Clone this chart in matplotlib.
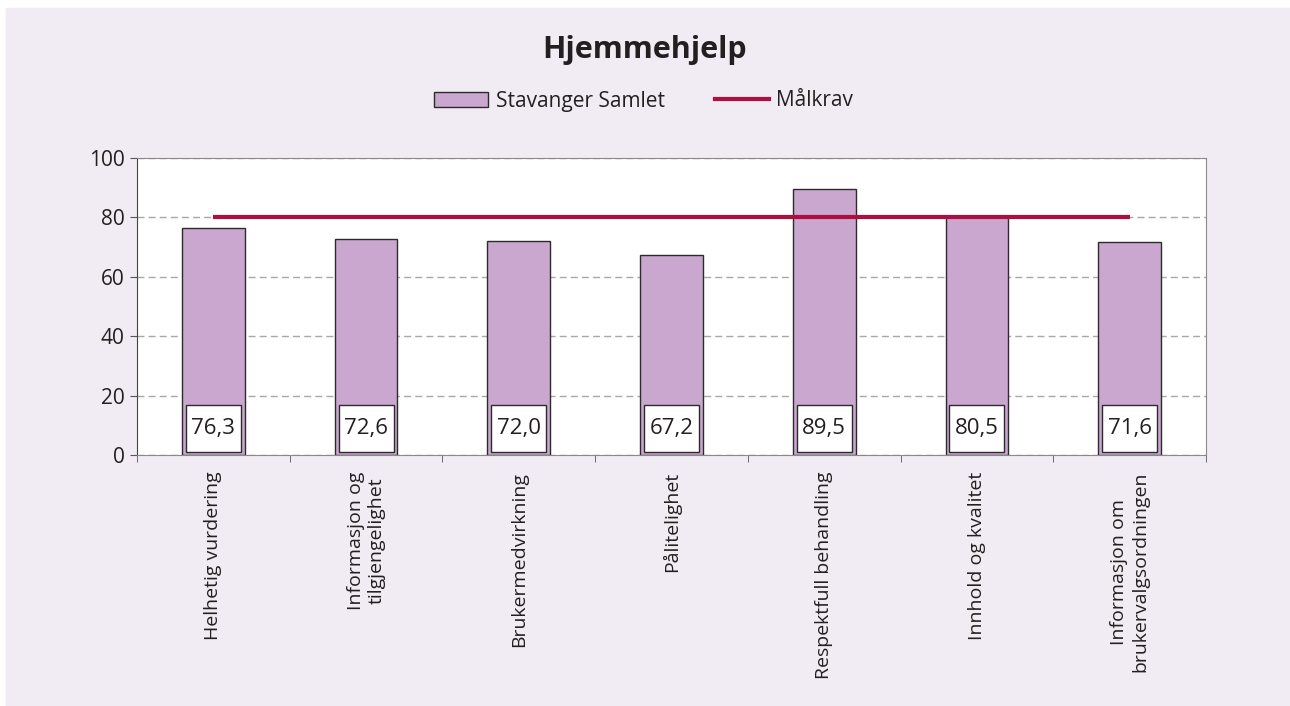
import matplotlib.pyplot as plt
from matplotlib.patches import Rectangle, Patch
from matplotlib.lines import Line2D
import numpy as np

plt.rcParams['font.family'] = ['Open Sans', 'DejaVu Sans']

# ---- data ----
categories = [
    "Helhetig vurdering",
    "Informasjon og\ntilgjengelighet",
    "Brukermedvirkning",
    "Pålitelighet",
    "Respektfull behandling",
    "Innhold og kvalitet",
    "Informasjon om\nbrukervalgsordningen",
]
scores = [76.3, 72.6, 72.0, 67.2, 89.5, 80.5, 71.6]
target = [80, 80, 80, 80, 80, 80, 80]

BAR_COLOR = "#C9A7CE"
LINE_COLOR = "#AE0F3E"
PANEL_COLOR = "#F1ECF4"
TEXT_COLOR = "#231F20"

fig = plt.figure(figsize=(12.9, 7.06), dpi=100, facecolor="white")
fig.patches.append(Rectangle((6 / 1290, 0), 1, 1 - 8 / 706,
                             transform=fig.transFigure, color=PANEL_COLOR,
                             zorder=-10))

ax = fig.add_axes([137 / 1290, 1 - 455 / 706, (1206 - 137) / 1290, (455 - 158) / 706])
ax.set_facecolor("white")

x = np.arange(len(categories))
ax.bar(x, scores, width=0.41, color=BAR_COLOR, edgecolor="#2B2B2B",
       linewidth=1, zorder=2)
ax.plot(x, target, color=LINE_COLOR, linewidth=3, zorder=3,
        solid_capstyle="butt")

# value boxes sitting at the foot of each bar
box_w, box_y0, box_y1 = 0.36, 1.0, 16.8
for xi, v in zip(x, scores):
    ax.add_patch(Rectangle((xi - box_w / 2, box_y0), box_w, box_y1 - box_y0,
                           facecolor="white", edgecolor="#2B2B2B",
                           linewidth=1, zorder=4))
    ax.text(xi, (box_y0 + box_y1) / 2, f"{v:.1f}".replace(".", ","),
            ha="center", va="center", fontsize=16, color=TEXT_COLOR, zorder=5)

ax.set_xlim(-0.5, len(categories) - 0.5)
ax.set_ylim(0, 100)
ax.set_yticks([0, 20, 40, 60, 80, 100])
ax.yaxis.grid(True, linestyle=(0, (5, 3)), color="#A8A8A8", linewidth=1, zorder=0)
ax.set_axisbelow(True)

ax.set_xticks(x)
ax.set_xticklabels(categories, rotation=90, fontsize=14, color=TEXT_COLOR,
                   multialignment="center")
ax.set_xticks(np.arange(-0.5, len(categories)), minor=True)
ax.tick_params(axis="x", which="major", length=0, pad=12)
ax.tick_params(axis="x", which="minor", length=5, color="#555555")
ax.tick_params(axis="y", length=5, labelsize=15, labelcolor=TEXT_COLOR,
               color="#555555", pad=4)

for side in ["top", "right", "bottom"]:
    ax.spines[side].set_color("#8A8A8A")
ax.spines["left"].set_color("#444444")

fig.text(0.5, 1 - 50 / 706, "Hjemmehjelp", ha="center", va="center",
         fontsize=22, fontweight="bold", color=TEXT_COLOR)

handles = [
    Patch(facecolor=BAR_COLOR, edgecolor="#2B2B2B", linewidth=1),
    Line2D([0], [0], color=LINE_COLOR, linewidth=3),
]
fig.legend(handles, ["Stavanger Samlet", "Målkrav"], loc="center",
           bbox_to_anchor=(0.499, 1 - 101 / 706), ncol=2, frameon=False,
           fontsize=15, handlelength=2.6, handleheight=0.7,
           handletextpad=0.35, columnspacing=2.4, labelcolor=TEXT_COLOR)

fig.savefig("out.png", dpi=100, facecolor="white")
